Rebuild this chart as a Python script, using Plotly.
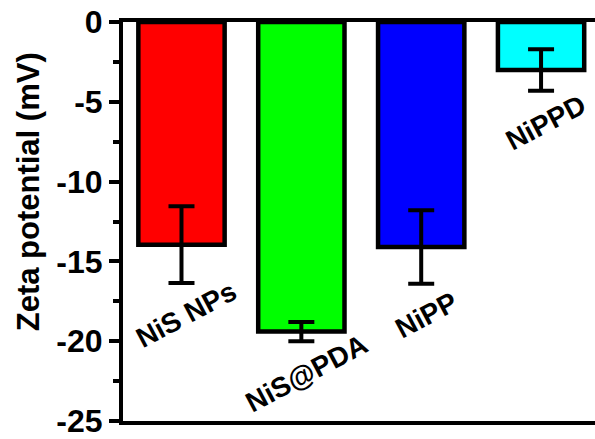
import plotly.graph_objects as go

categories = ["NiS NPs", "NiS@PDA", "NiPP", "NiPPD"]
values = [-13.95, -19.4, -14.1, -3.0]
errors = [2.4, 0.6, 2.3, 1.3]
colors = ["#FF0000", "#00FF00", "#0000FF", "#00FFFF"]
y_ticks = [0, -5, -10, -15, -20, -25]

FONT = "Liberation Sans, Arial, sans-serif"
xpos = list(range(len(categories)))

W, H = 595, 439
ml, mr, mt, mb = 123, 0, 22, 14
pw, ph = W - ml - mr, H - mt - mb

fig = go.Figure()
fig.add_trace(go.Bar(
    x=xpos, y=values, width=0.72,
    marker=dict(color=colors, line=dict(color="black", width=4.5)),
    error_y=dict(type="data", symmetric=True, array=errors,
                 color="black", thickness=4, width=13),
    hoverinfo="skip", showlegend=False,
))

for i, cat in enumerate(categories):
    fig.add_annotation(
        x=xpos[i], y=values[i] - errors[i], xref="x", yref="y",
        text=cat, showarrow=False, textangle=-28,
        xanchor="center", yanchor="middle", xshift=5, yshift=-32,
        font=dict(family=FONT, size=28, color="black", weight="bold"),
    )

fig.add_annotation(
    x=(28 - ml) / pw, y=(H - mb - 194) / ph, xref="paper", yref="paper",
    text="Zeta potential (mV)",
    showarrow=False, textangle=-90, xanchor="center", yanchor="middle",
    font=dict(family=FONT, size=31, color="black", weight="bold"),
)

fig.update_layout(
    width=W, height=H,
    margin=dict(l=ml, r=mr, t=mt, b=mb),
    plot_bgcolor="white", paper_bgcolor="white",
    xaxis=dict(range=[-0.488, 3.45], showticklabels=False, ticks="",
               showgrid=False, zeroline=False, showline=True,
               linecolor="black", linewidth=4, mirror=True),
    yaxis=dict(range=[-25, 0], tickvals=y_ticks,
               ticktext=[str(v) for v in y_ticks],
               ticks="outside", ticklen=10, tickwidth=4, tickcolor="black",
               ticklabeloverflow="allow",
               minor=dict(dtick=2.5, tick0=0, ticks="outside", ticklen=6,
                          tickwidth=4, tickcolor="black", showgrid=False),
               showgrid=False, zeroline=False, showline=True,
               linecolor="black", linewidth=4,
               tickfont=dict(family=FONT, size=32, color="black", weight="bold")),
)

fig.write_html("out.html",
               config={"displayModeBar": False, "staticPlot": True},
               post_script="document.body.style.margin='0';document.body.style.overflow='hidden';")
